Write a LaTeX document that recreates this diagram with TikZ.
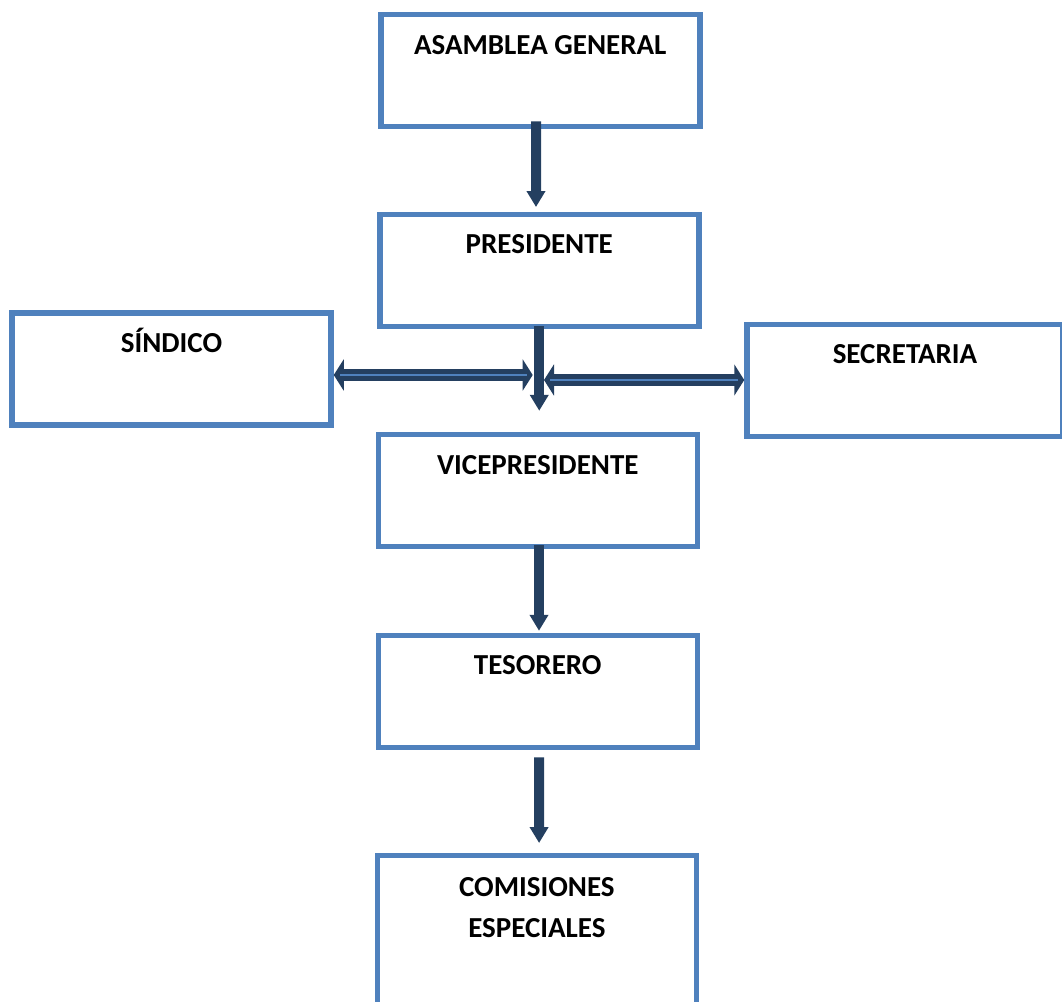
\documentclass[tikz,border=0pt]{standalone}
\usepackage{fontspec}
\setmainfont{Carlito}
\usetikzlibrary{arrows.meta,positioning}
\definecolor{boxblue}{HTML}{4F81BD}
\definecolor{arrownavy}{HTML}{243F60}
\tikzset{
  orgbox/.style={draw=boxblue, line width=0.11cm, minimum width=6.38cm, minimum height=2.24cm, inner sep=0pt},
  boxtitle/.style={font=\fontsize{16.5}{23.3}\selectfont\bfseries, inner sep=0pt, align=center},
  flow/.style={arrownavy, line width=0.2cm, -{Triangle[width=0.36cm,length=0.32cm]}},
  duplex/.style={arrownavy, line width=0.24cm, {Triangle[width=0.62cm,length=0.2cm]}-{Triangle[width=0.62cm,length=0.2cm]}},
  duplexline/.style={boxblue, line width=0.8pt, shorten <=0.12cm, shorten >=0.12cm}
}
\begin{document}
\begin{tikzpicture} %organigrama
    \useasboundingbox (0,0) rectangle (21.24,-20.02);
    %the boxes
    \node[orgbox] (asamblea) at (10.805,-1.41) {};
    \node[orgbox] (presidente) at (10.785,-5.405) {};
    \node[orgbox] (sindico) at (3.43,-7.38) {};
    \node[orgbox, minimum width=6.32cm] (secretaria) at (18.10,-7.605) {};
    \node[orgbox] (vice) at (10.755,-9.81) {};
    \node[orgbox] (tesorero) at (10.755,-13.825) {};
    \node[orgbox, minimum height=3.19cm] (comisiones) at (10.737,-18.705) {};
%the titles
    \node[boxtitle, text height=0.34cm, below=0.5cm of asamblea.north] (asamblea-t) {ASAMBLEA GENERAL};
    \node[boxtitle, text height=0.34cm, below=0.5cm of presidente.north] (presidente-t) {PRESIDENTE};
    \node[boxtitle, text height=0.34cm, below=0.5cm of sindico.north] (sindico-t) {SÍNDICO};
    \node[boxtitle, text height=0.34cm, below=0.5cm of secretaria.north] (secretaria-t) {SECRETARIA};
    \node[boxtitle, text height=0.34cm, below=0.5cm of vice.north] (vice-t) {VICEPRESIDENTE};
    \node[boxtitle, text height=0.34cm, below=0.5cm of tesorero.north] (tesorero-t) {TESORERO};
    \node[boxtitle, below=0.48cm of comisiones.north] (comisiones-t) {COMISIONES\\ESPECIALES};
%the arrows down
    \draw[flow] ([xshift=-0.085cm,yshift=0.16cm]asamblea.south) -- ([xshift=-0.065cm,yshift=0.09cm]presidente.north);
    \draw[flow] ([yshift=0.06cm]presidente.south) -- ([xshift=0.03cm,yshift=0.42cm]vice.north);
    \draw[flow] ([xshift=0.025cm,yshift=0.08cm]vice.south) -- ([xshift=0.025cm,yshift=0.035cm]tesorero.north);
    \draw[flow] ([xshift=0.025cm,yshift=-0.145cm]tesorero.south) -- ([xshift=0.045cm,yshift=0.195cm]comisiones.north);
%the arrows to the sides
    \coordinate (leftjoin) at (10.654,-7.5);
    \coordinate (rightjoin) at (10.88,-7.6);
    \draw[duplex] (sindico.east |- leftjoin) -- (leftjoin);
    \draw[duplexline] (sindico.east |- leftjoin) -- (leftjoin);
    \draw[duplex] (rightjoin) -- (secretaria.west |- rightjoin);
    \draw[duplexline] (rightjoin) -- (secretaria.west |- rightjoin);
\end{tikzpicture}
\end{document}
